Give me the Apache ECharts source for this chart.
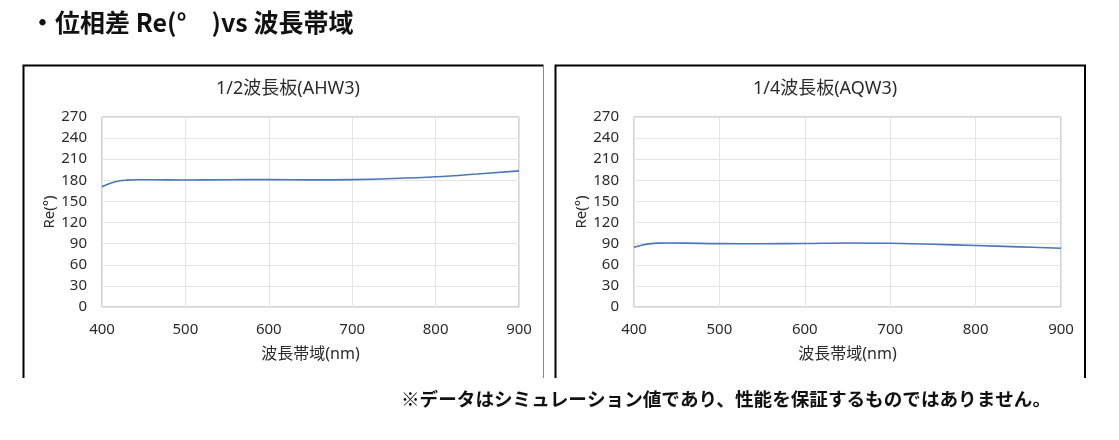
<!DOCTYPE html>
<html>
<head>
<meta charset="utf-8">
<script src="https://cdn.jsdelivr.net/npm/echarts@6/dist/echarts.min.js"></script>
<style>html,body{margin:0;padding:0;background:#fff}#c{width:1119px;height:440px}</style>
</head>
<body>
<div id="c"></div>
<script>
// ---- data ----
const pageTitle = '・位相差 Re(°\u3000)vs 波長帯域';
const footNote = '※データはシミュレーション値であり、性能を保証するものではありません。';
const chartTitles = ['1/2波長板(AHW3)', '1/4波長板(AQW3)'];
const xAxisName = '波長帯域(nm)';
const yAxisName = 'Re(°)';
const wavelengths = [400, 410, 420, 430, 440, 460, 500, 550, 600, 650, 700, 750, 800, 850, 900];
const reHalfWave = [171, 176, 179, 180.3, 180.8, 180.8, 180.5, 180.8, 181, 180.6, 181, 182.5, 185, 189, 193.5];
const reQuarterWave = [85, 88, 90, 90.8, 91, 90.8, 90, 89.9, 90.3, 91, 90.5, 89.2, 87.4, 85.5, 83.5];
const xTicks = { min: 400, max: 900, interval: 100 };
const yTicks = { min: 0, max: 270, interval: 30 };

const pairs = (xs, ys) => xs.map((x, i) => [x, ys[i]]);

const fontFam = '"Noto Sans", "Noto Sans CJK JP", sans-serif';
const labelColor = '#2b2b2b';

function makeX(gi) {
  return {
    gridIndex: gi, type: 'value', min: xTicks.min, max: xTicks.max, interval: xTicks.interval,
    name: xAxisName, nameLocation: 'middle', nameGap: 39,
    nameTextStyle: { fontSize: 16, color: labelColor, fontFamily: fontFam },
    axisLine: { show: false }, axisTick: { show: false },
    axisLabel: { fontSize: 15, color: labelColor, margin: 15, fontFamily: fontFam },
    splitLine: { show: true, lineStyle: { color: '#e4e4e4', width: 1 } }
  };
}
function makeY(gi) {
  return {
    gridIndex: gi, type: 'value', min: yTicks.min, max: yTicks.max, interval: yTicks.interval,
    name: yAxisName, nameLocation: 'middle', nameGap: 45, nameRotate: 90,
    nameTextStyle: { fontSize: 15, color: labelColor, fontFamily: fontFam },
    axisLine: { show: false }, axisTick: { show: false },
    axisLabel: { fontSize: 15, color: labelColor, margin: 15, fontFamily: fontFam },
    splitLine: { show: true, lineStyle: { color: '#e4e4e4', width: 1 } }
  };
}

const chart = echarts.init(document.getElementById('c'), null, { renderer: 'canvas' });
chart.setOption({
  animation: false,
  backgroundColor: '#fff',
  title: [
    { text: pageTitle, left: 25, top: 5, textStyle: { fontSize: 25, fontWeight: 'bold', color: '#111', fontFamily: '"Noto Sans CJK JP", sans-serif' } },
    { text: chartTitles[0], left: 283, textAlign: 'center', top: 75, textStyle: { fontSize: 18, fontWeight: 'normal', color: labelColor, fontFamily: fontFam } },
    { text: chartTitles[1], left: 820, textAlign: 'center', top: 75, textStyle: { fontSize: 18, fontWeight: 'normal', color: labelColor, fontFamily: fontFam } },
    { text: footNote, left: 396, top: 385, textStyle: { fontSize: 18.6, fontWeight: 'bold', color: '#111', fontFamily: '"Noto Sans CJK JP", sans-serif' } }
  ],
  grid: [
    { left: 102, top: 117, width: 417, height: 190, show: true, borderColor: '#a6a6a6', borderWidth: 1, backgroundColor: 'transparent' },
    { left: 634, top: 117, width: 427, height: 190, show: true, borderColor: '#a6a6a6', borderWidth: 1, backgroundColor: 'transparent' }
  ],
  xAxis: [makeX(0), makeX(1)],
  yAxis: [makeY(0), makeY(1)],
  series: [
    { type: 'line', xAxisIndex: 0, yAxisIndex: 0, data: pairs(wavelengths, reHalfWave), smooth: 0.4, showSymbol: false, lineStyle: { color: '#4a76bb', width: 1.6 } },
    { type: 'line', xAxisIndex: 1, yAxisIndex: 1, data: pairs(wavelengths, reQuarterWave), smooth: 0.4, showSymbol: false, lineStyle: { color: '#4a76bb', width: 1.6 } }
  ],
  graphic: [
    { type: 'polyline', shape: { points: [[23.5, 378], [23.5, 65.5], [543.5, 65.5]] }, style: { stroke: '#000', lineWidth: 2, fill: null } },
    { type: 'line', shape: { x1: 543.5, y1: 66, x2: 543.5, y2: 378 }, style: { stroke: '#888', lineWidth: 1 } },
    { type: 'polyline', shape: { points: [[555.5, 378], [555.5, 65.5], [1085, 65.5], [1085, 378]] }, style: { stroke: '#000', lineWidth: 2, fill: null } }
  ]
});
</script>
</body>
</html>
